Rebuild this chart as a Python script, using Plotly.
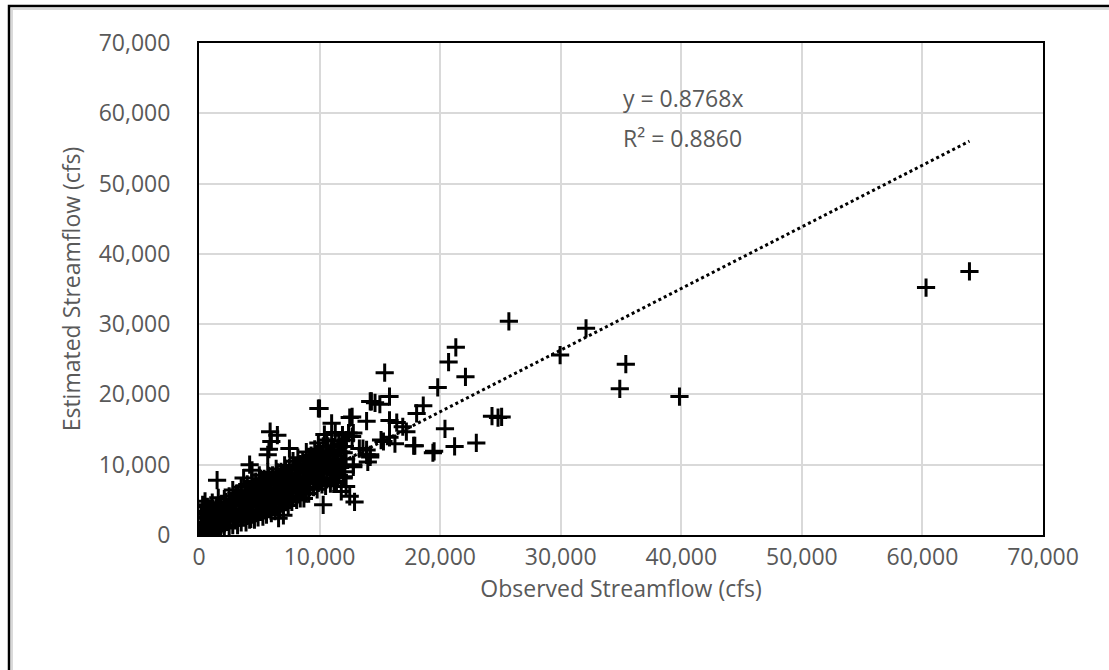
import plotly.graph_objects as go

# ---- data (thousands of cfs) ----
observed_k = [
    63.9, 60.3, 39.85, 35.4, 34.9, 32.1, 29.95, 25.7, 25.1, 24.3, 24.8, 23.0,
    21.3, 20.7, 22.1, 19.8, 21.2, 20.4, 19.4, 19.5, 18.6, 18.05, 17.9, 17.8,
    17.2, 16.9, 16.4, 15.8, 15.8, 15.4, 15.0, 14.6, 14.2, 14.3, 16.25, 15.8,
    15.3, 15.1, 14.2, 14.2, 13.9, 13.3, 11.7, 12.8, 12.0, 12.8, 14.0, 13.9,
    12.5, 12.7, 11.0, 12.7, 12.4, 10.0, 9.9, 10.3, 11.4, 11.8, 12.2, 12.5,
    12.9, 10.9, 8.1, 8.7, 8.9, 7.0, 5.9, 6.5, 6.0, 5.8, 5.7, 7.5, 4.2, 4.4,
    1.5, 4.3, 12.2, 12.1, 13.6, 13.9, 12.8,
    0.1, 0.2, 0.3, 0.2, 0.4, 0.3, 0.6, 0.7, 0.8, 0.6, 0.9, 0.5,
    1.2, 1.1, 1.3, 1.2, 1.4, 1.1, 1.6,
    1.8, 1.9, 1.7, 2.0, 1.8, 2.1,
    2.5, 2.4, 2.6, 2.4, 2.7, 2.5, 2.8,
    3.2, 3.1, 3.3, 3.0, 3.4, 3.2, 3.5,
    3.9, 4.0, 3.8, 4.1, 3.9, 4.2, 4.0, 3.7,
    4.6, 4.7, 4.5, 4.8, 4.6, 4.9, 4.7, 5.0,
    5.3, 5.4, 5.2, 5.5, 5.3, 5.6, 5.4, 5.7,
    6.0, 6.1, 5.9, 6.2, 6.0, 6.3, 6.1, 6.4, 6.6,
    6.7, 6.8, 6.6, 6.9, 6.7, 7.0, 6.8, 7.1,
    7.4, 7.5, 7.3, 7.6, 7.4, 7.7, 7.5, 7.8,
    8.1, 8.2, 8.0, 8.3, 8.1, 8.4, 8.2,
    8.8, 8.9, 8.7, 9.0, 8.8, 9.1, 8.9,
    9.5, 9.6, 9.4, 9.7, 9.5, 9.8, 9.6, 9.9,
    10.2, 10.3, 10.1, 10.4, 10.2, 10.5, 10.3, 10.6, 10.4,
    10.9, 11.0, 10.8, 11.1, 10.9, 11.2, 11.0, 11.3,
    11.6, 11.7, 11.5, 11.8, 11.6, 11.9,
    0.4, 0.5, 0.6, 0.4, 0.7, 1.0, 0.9, 1.0, 0.8, 1.5, 1.4, 1.6, 1.5, 1.7,
    2.1, 2.2, 2.0, 2.3, 2.2, 2.8, 2.9, 2.7, 3.0, 2.9, 3.1,
    3.5, 3.6, 3.4, 3.7, 3.5, 3.8, 4.2, 4.3, 4.1, 4.4, 4.2, 4.5, 4.4,
    4.9, 5.0, 4.8, 5.1, 4.9, 5.2, 5.1, 5.6, 5.7, 5.5, 5.8, 5.6, 5.9, 5.8,
    6.3, 6.4, 6.2, 6.5, 6.3, 6.6, 6.5, 7.0, 7.1, 6.9, 7.2, 7.0, 7.3, 7.2,
    7.7, 7.8, 7.6, 7.9, 7.7, 8.0, 8.4, 8.5, 8.3, 8.6, 8.4, 8.7, 8.6,
    9.1, 9.2, 9.0, 9.3, 9.1, 9.4, 9.3, 9.8, 9.9, 9.7, 10.0, 9.8, 10.1, 10.0,
    10.5, 10.6, 10.4, 10.7, 10.5, 10.8, 10.7, 11.2, 11.3, 11.1, 11.4, 11.2, 11.5,
    12.0, 12.1, 11.9, 12.2, 12.0,
]
estimated_k = [
    37.5, 35.2, 19.7, 24.3, 20.8, 29.4, 25.6, 30.4, 16.8, 16.9, 16.7, 13.1,
    26.7, 24.6, 22.5, 21.0, 12.6, 15.1, 11.7, 11.9, 18.4, 17.3, 12.7, 12.7,
    14.7, 15.4, 16.0, 16.3, 19.7, 23.1, 18.6, 18.8, 19.0, 19.0, 13.0, 13.9,
    13.3, 13.5, 11.4, 11.1, 12.1, 12.3, 12.6, 9.7, 8.3, 10.0, 10.4, 16.2,
    16.7, 16.8, 15.9, 14.0, 14.5, 18.0, 18.0, 4.3, 7.6, 6.2, 6.9, 5.5,
    4.7, 7.3, 5.0, 5.2, 5.9, 2.8, 14.7, 14.2, 13.3, 12.2, 11.4, 12.3, 10.0, 9.2,
    7.8, 2.3, 13.5, 12.6, 12.3, 11.4, 14.5,
    0.3, 1.0, 1.8, 2.6, 3.4, 4.3, 0.5, 1.4, 2.2, 3.0, 3.8, 4.8,
    0.4, 1.3, 2.1, 3.0, 3.8, 4.6, 5.3,
    0.8, 1.7, 2.6, 3.4, 4.3, 5.1,
    1.0, 2.0, 2.9, 3.8, 4.6, 5.5, 6.4,
    1.4, 2.3, 3.2, 4.1, 5.0, 5.9, 6.8,
    1.8, 2.7, 3.6, 4.5, 5.4, 6.3, 7.2, 8.1,
    2.2, 3.1, 4.0, 4.9, 5.8, 6.7, 7.6, 8.5,
    2.6, 3.5, 4.4, 5.3, 6.2, 7.1, 8.0, 8.9,
    3.1, 4.0, 4.9, 5.8, 6.7, 7.6, 8.5, 9.4, 2.4,
    3.6, 4.5, 5.4, 6.3, 7.2, 8.1, 9.0, 9.9,
    4.2, 5.1, 6.0, 6.9, 7.8, 8.7, 9.6, 10.5,
    5.6, 6.5, 7.4, 8.3, 9.2, 10.1, 11.0,
    6.4, 7.3, 8.2, 9.1, 10.0, 10.9, 11.8,
    6.8, 7.7, 8.6, 9.5, 10.4, 11.3, 12.2, 13.1,
    7.2, 8.1, 9.0, 9.9, 10.8, 11.7, 12.6, 13.5, 14.3,
    8.0, 8.9, 9.8, 10.7, 11.6, 12.5, 13.4, 14.6,
    8.5, 9.6, 10.7, 11.8, 13.0, 14.2,
    0.7, 1.5, 2.4, 3.2, 4.0, 0.2, 1.0, 1.9, 2.7, 0.6, 1.6, 2.5, 3.4, 4.2,
    1.2, 2.1, 3.0, 3.9, 4.7, 1.4, 2.4, 3.3, 4.2, 5.0, 5.9,
    1.8, 2.8, 3.7, 4.6, 5.5, 6.3, 2.2, 3.2, 4.1, 5.0, 5.9, 6.7, 7.6,
    2.5, 3.5, 4.4, 5.3, 6.2, 7.1, 8.0, 2.9, 3.9, 4.8, 5.7, 6.6, 7.5, 8.4,
    3.4, 4.4, 5.3, 6.2, 7.1, 8.0, 8.9, 3.9, 4.9, 5.8, 6.7, 7.6, 8.5, 9.4,
    4.7, 5.6, 6.5, 7.4, 8.3, 9.2, 5.2, 6.1, 7.0, 7.9, 8.8, 9.7, 10.6,
    5.9, 6.8, 7.7, 8.6, 9.5, 10.4, 11.3, 6.5, 7.4, 8.3, 9.2, 10.1, 11.0, 11.9,
    7.0, 7.9, 8.8, 9.7, 10.6, 11.5, 12.6, 7.6, 8.5, 9.4, 10.3, 11.2, 12.1,
    8.1, 9.0, 9.9, 10.8, 11.7,
]
observed = [v * 1000 for v in observed_k]
estimated = [v * 1000 for v in estimated_k]

slope = 0.8768
r_squared = 0.8860
tick_values = [0, 10000, 20000, 30000, 40000, 50000, 60000, 70000]

x_title = "Observed Streamflow (cfs)"
y_title = "Estimated Streamflow (cfs)"

TXT = "#595959"
FONT = "Open Sans"
FS = 23

fig = go.Figure()

fig.add_trace(go.Scatter(
    x=observed, y=estimated, mode="markers",
    marker=dict(symbol="cross-thin", size=13, color="black",
                line=dict(color="black", width=3)),
    showlegend=False, hoverinfo="x+y",
))

x_max = max(observed)
fig.add_trace(go.Scatter(
    x=[0, x_max], y=[0, slope * x_max], mode="lines",
    line=dict(color="black", width=3, dash="dot"),
    showlegend=False, hoverinfo="skip",
))

axis_common = dict(
    range=[0, 70000], tickvals=tick_values, tickformat=",",
    showgrid=True, gridcolor="#d9d9d9", gridwidth=2,
    zeroline=False, showline=True, linecolor="black", linewidth=2,
    mirror=True, ticks="", automargin=False,
    tickfont=dict(family=FONT, size=FS, color=TXT),
)

fig.update_xaxes(**axis_common, ticklabelstandoff=0,
                 title=dict(text=x_title, font=dict(family=FONT, size=FS, color=TXT), standoff=10))
fig.update_yaxes(**axis_common, ticklabelstandoff=22,
                 title=dict(text=y_title, font=dict(family=FONT, size=FS, color=TXT), standoff=12))

fig.add_annotation(xref="paper", yref="paper", x=0.500, y=0.888,
                   xanchor="left", yanchor="middle", showarrow=False,
                   text=f"y = {slope:.4f}x",
                   font=dict(family=FONT, size=FS, color=TXT))
fig.add_annotation(xref="paper", yref="paper", x=0.500, y=0.807,
                   xanchor="left", yanchor="middle", showarrow=False,
                   text=f"R² = {r_squared:.4f}",
                   font=dict(family=FONT, size=FS, color=TXT))

# outer chart border (only left/top edges fall inside the picture)
fig.add_shape(type="rect", xref="paper", yref="paper",
              x0=-0.2216, x1=1.3, y0=-0.5, y1=1.0691,
              line=dict(color="#d9d9d9", width=2), layer="below")
fig.add_shape(type="rect", xref="paper", yref="paper",
              x0=-0.2251, x1=1.3, y0=-0.5, y1=1.0752,
              line=dict(color="black", width=2.5), layer="below")

fig.update_layout(
    width=1109, height=670,
    margin=dict(l=199, r=66, t=43, b=135),
    paper_bgcolor="white", plot_bgcolor="white",
    font=dict(family=FONT, color=TXT),
)

fig.write_html("out.html", config={"displayModeBar": False},
               post_script="document.body.style.margin='0';document.body.style.overflow='hidden';")
